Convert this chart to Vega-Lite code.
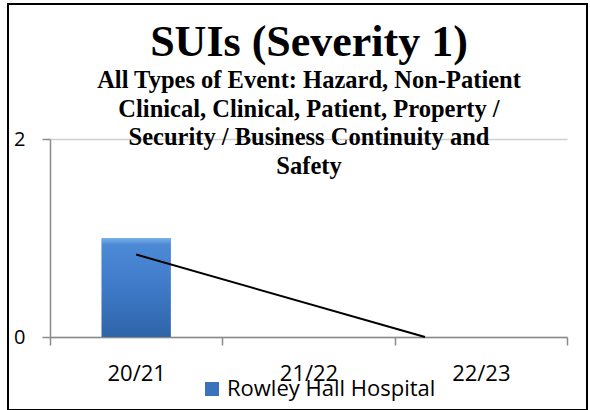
{
  "$schema": "https://vega.github.io/schema/vega-lite/v6.json",
  "width": 579,
  "height": 406,
  "autosize": {"type": "none"},
  "padding": {"left": 8, "top": 4, "right": 3, "bottom": 0},
  "background": "white",
  "config": {"view": {"stroke": "#000000", "strokeWidth": 2}},
  "title": {
    "text": "SUIs (Severity 1)",
    "subtitle": ["All Types of Event: Hazard, Non-Patient", "Clinical, Clinical, Patient, Property /", "Security / Business Continuity and", "Safety"],
    "anchor": "middle",
    "frame": "group",
    "offset": -174,
    "dx": 11.5,
    "font": "Liberation Serif",
    "fontSize": 44,
    "fontWeight": "bold",
    "color": "#000000",
    "subtitleFont": "Liberation Serif",
    "subtitleFontSize": 24.5,
    "subtitleFontWeight": "bold",
    "subtitleColor": "#000000",
    "subtitleLineHeight": 28.5,
    "subtitlePadding": 4
  },
  "resolve": {"scale": {"x": "independent"}},
  "layer": [
    {
      "data": {"values": [
        {"year": "20/21", "value": 1, "hospital": "Rowley Hall Hospital"},
        {"year": "21/22", "value": 0, "hospital": "Rowley Hall Hospital"},
        {"year": "22/23", "value": 0, "hospital": "Rowley Hall Hospital"}
      ]},
      "encoding": {
        "x": {
          "field": "year", "type": "nominal", "sort": null,
          "scale": {"range": [42, 559], "paddingInner": 0, "paddingOuter": 0},
          "axis": {
            "title": null, "orient": "bottom", "offset": -73, "tickBand": "extent",
            "tickSize": 8, "domainColor": "#8a8a8a", "domainWidth": 1.5,
            "tickColor": "#8a8a8a", "tickWidth": 1.5, "labelFont": "Open Sans",
            "labelFontSize": 22, "labelColor": "#000000", "labelPadding": 35,
            "labelBaseline": "alphabetic", "labelAngle": 0, "grid": false
          }
        },
        "y": {
          "field": "value", "type": "quantitative",
          "scale": {"domain": [0, 2], "range": [333, 135], "nice": false},
          "axis": {
            "values": [0, 2], "format": "d", "orient": "left", "offset": -42, "title": null,
            "grid": true, "gridColor": "#d0d0d0", "gridWidth": 1.5,
            "domainColor": "#8a8a8a", "domainWidth": 1.5, "tickColor": "#8a8a8a",
            "tickWidth": 1.5, "tickSize": 8, "labelFont": "Open Sans",
            "labelFontSize": 20, "labelColor": "#000000", "labelPadding": 17
          }
        }
      },
      "layer": [
        {
          "mark": {"type": "bar", "width": {"band": 0.4}},
          "encoding": {
            "color": {
              "field": "hospital", "type": "nominal",
              "scale": {"domain": ["Rowley Hall Hospital"], "range": ["#3a73bb"]},
              "legend": {
                "orient": "none", "legendX": 193, "legendY": 374, "title": null,
                "symbolType": "square", "symbolSize": 196, "symbolStrokeWidth": 0,
                "labelFont": "Open Sans", "labelFontSize": 22, "labelColor": "#000000",
                "labelOffset": 4, "labelLimit": 400, "padding": 0, "direction": "horizontal"
              }
            }
          }
        },
        {
          "mark": {
            "type": "bar", "width": {"band": 0.4},
            "fill": {
              "gradient": "linear", "x1": 0, "y1": 0, "x2": 0, "y2": 1,
              "stops": [
                {"offset": 0, "color": "#7ab0ea"},
                {"offset": 0.07, "color": "#4d8ad6"},
                {"offset": 0.5, "color": "#3e7ac8"},
                {"offset": 1, "color": "#2f64a8"}
              ]
            }
          }
        }
      ]
    },
    {
      "data": {"values": [
        {"pos": 1, "trend": 0.833},
        {"pos": 2.676, "trend": 0}
      ]},
      "mark": {"type": "line", "color": "#000000", "strokeWidth": 2},
      "encoding": {
        "x": {
          "field": "pos", "type": "quantitative",
          "scale": {"domain": [0.5, 3.5], "range": [42, 559], "nice": false, "zero": false},
          "axis": null
        },
        "y": {"field": "trend", "type": "quantitative"}
      }
    }
  ]
}
